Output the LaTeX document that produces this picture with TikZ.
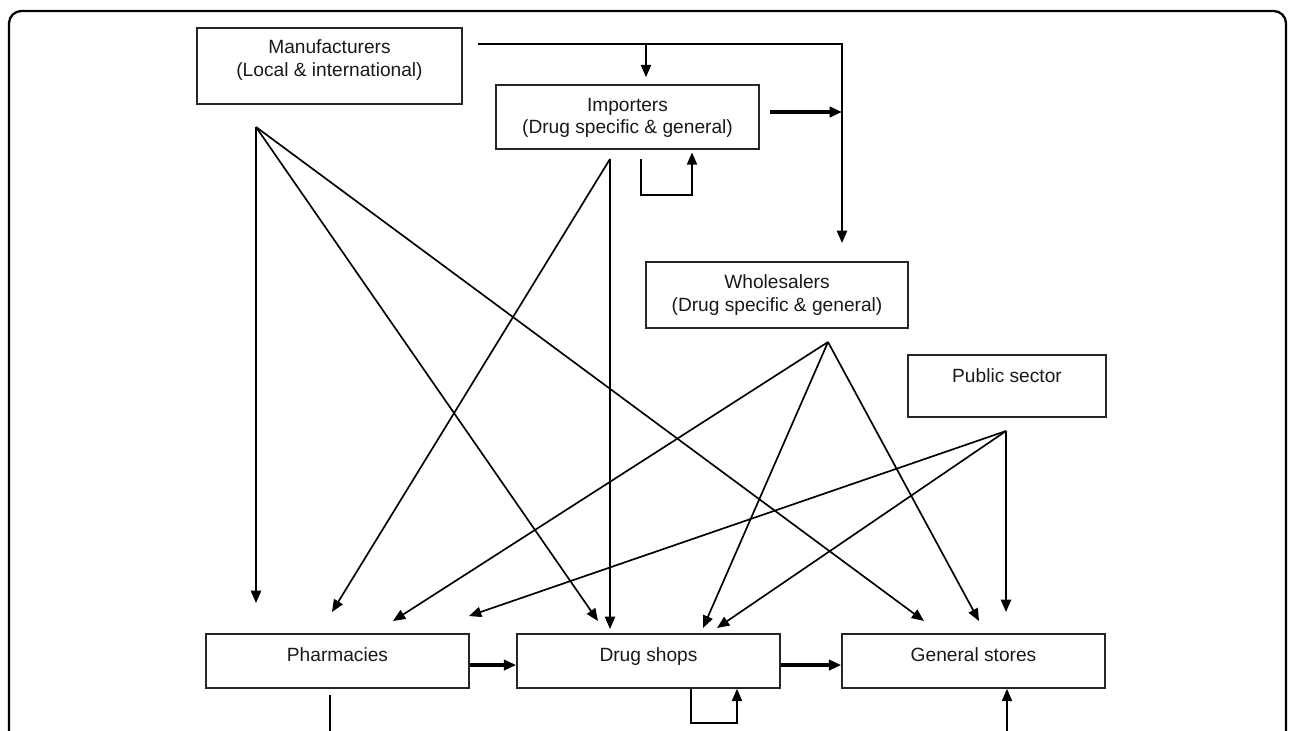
\documentclass[tikz,border=0pt]{standalone}
\usepackage{fontspec}
\setmainfont{Liberation Sans}
\usepackage{tikz}
\usetikzlibrary{arrows.meta}

\begin{document}
\begin{tikzpicture}[x=0.02cm, y=-0.02cm,
    >={Triangle[length=7pt,width=5.8pt]},
    box/.style={draw=black!85, line width=0.9pt, align=center, inner sep=0pt,
                font=\fontsize{10.9}{13}\selectfont, text=black!90},
    link/.style={->, line width=0.95pt},
    feed/.style={->, line width=2.1pt}]

    \useasboundingbox (0,0) rectangle (1290,730);
    \draw[line width=1.3pt, rounded corners=7pt] (9,800) |- (1286,11) -- (1286,800);

    \node[box, minimum width=5.3cm, text height=0.96cm, text depth=0.56cm]  (manu)  at (329.5, 66)  {Manufacturers\\(Local \& international)};
    \node[box, minimum width=5.26cm, text height=0.98cm, text depth=0.3cm]  (imp)   at (627.5, 117) {Importers\\(Drug specific \& general)};
    \node[box, minimum width=5.24cm, text height=0.98cm, text depth=0.34cm] (whole) at (777, 295)   {Wholesalers\\(Drug specific \& general)};
    \node[box, minimum width=3.96cm, text height=0.54cm, text depth=0.7cm]  (pub)   at (1007, 386)  {Public sector};
    \node[box, minimum width=5.26cm, text height=0.54cm, text depth=0.54cm] (pharm) at (337.5, 661) {Pharmacies};
    \node[box, minimum width=5.26cm, text height=0.54cm, text depth=0.54cm] (drug)  at (648.5, 661) {Drug shops};
    \node[box, minimum width=5.26cm, text height=0.54cm, text depth=0.54cm] (gen)   at (973.5, 661) {General stores};

    % fan points under the suppliers
    \coordinate (mf)   at (256, 127);
    \coordinate (impf) at (610, 159);
    \coordinate (wf)   at (828, 342);
    \coordinate (pf)   at (1006, 431);

    % arrow ends above the outlets
    \coordinate (p1) at (256, 603);
    \coordinate (p2) at (332, 612);
    \coordinate (p3) at (393, 621);
    \coordinate (p4) at (469, 616);
    \coordinate (d1) at (598, 621);
    \coordinate (d2) at (610, 629);
    \coordinate (d3) at (703, 628);
    \coordinate (d4) at (717, 628);
    \coordinate (g1) at (924, 621);
    \coordinate (g2) at (979, 621);
    \coordinate (g3) at (1006, 612);

    % top routing
    \coordinate (mo) at (478, 44);
    \coordinate (mc) at (842, 44);
    \coordinate (wi) at (842, 243);
    \coordinate (im) at (646, 44);
    \coordinate (io) at (770, 112);
    \coordinate (ie) at (842, 112);
    \coordinate (il) at (641, 159);
    \coordinate (ir) at (692, 195);
    \coordinate (dl) at (691, 723);
    \coordinate (dr) at (737, 723);
    \coordinate (po) at (330, 695);
    \coordinate (pb) at (330, 740);
    \coordinate (gb) at (1007, 740);

    \draw[link] (mo) -- (mc) -- (wi);
    \draw[link, shorten >=4pt] (im) -- (im |- imp.north);
    \draw[feed] (io) -- (ie);
    \draw[link, shorten >=1.5pt] (il) |- (ir) -- (ir |- imp.south);

    \draw (mf) edge[link] (p1);
    \draw (mf) edge[link] (d1);
    \draw (mf) edge[link] (g1);
    \draw (impf) edge[link] (p2);
    \draw (impf) edge[link] (d2);
    \draw (wf) edge[link] (p3);
    \draw (wf) edge[link] (d3);
    \draw (wf) edge[link] (g2);
    \draw (pf) edge[link] (p4);
    \draw (pf) edge[link] (d4);
    \draw (pf) edge[link] (g3);

    \draw[feed] ([yshift=-2.3pt]pharm.east) -- ([yshift=-2.3pt]drug.west);
    \draw[feed] ([yshift=-2.3pt]drug.east) -- ([yshift=-2.3pt]gen.west);
    \draw[link] (drug.south -| dl) -- (dl) -- (dr) -- (dr |- drug.south);
    \draw[line width=0.95pt] (po) -- (pb);
    \draw[link] (gb) -- (gb |- gen.south);
\end{tikzpicture}
\end{document}
